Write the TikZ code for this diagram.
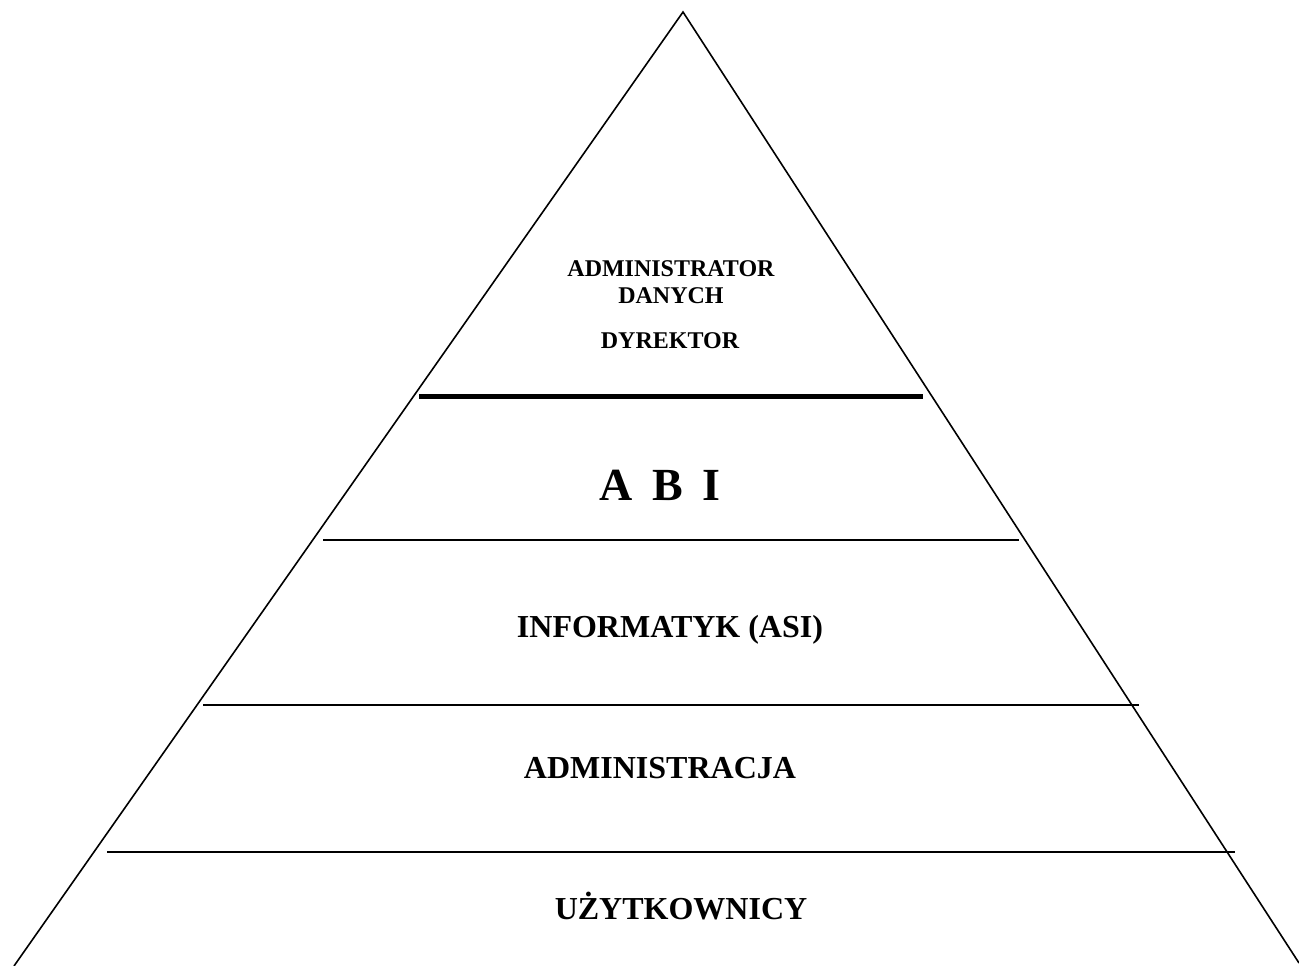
\documentclass[tikz,border=0pt]{standalone}
\usepackage{fontspec}
\setmainfont{Liberation Serif}
\begin{document}
\begin{tikzpicture}[x=1pt,y=-1pt,
  edge/.style={line width=1.6pt},
  tier/.style={line width=1.8pt},
  thicktier/.style={line width=5pt},
  lbl/.style={anchor=base,inner sep=0pt,font=\bfseries}]
\useasboundingbox (0,0) rectangle (1299,966);
% pyramid outline
\coordinate (apex) at (683,12);
\coordinate (bl) at (14,966);
\coordinate (br) at (1299,963);
\draw[edge,line join=miter] (bl) -- (apex) -- (br);
% tier separators
\coordinate (t1l) at (419,396); \coordinate (t1r) at (923,396);
\coordinate (t2l) at (323,540); \coordinate (t2r) at (1019,540);
\coordinate (t3l) at (203,705); \coordinate (t3r) at (1139,705);
\coordinate (t4l) at (107,852); \coordinate (t4r) at (1235,852);
\draw[thicktier] (t1l) -- (t1r);
\draw[tier] (t2l) -- (t2r);
\draw[tier] (t3l) -- (t3r);
\draw[tier] (t4l) -- (t4r);
% labels
\node[lbl,font=\bfseries\fontsize{24}{28}\selectfont] (adm) at (671,276) {ADMINISTRATOR};
\node[lbl,font=\bfseries\fontsize{24}{28}\selectfont] (dan) at (671,303) {DANYCH};
\node[lbl,font=\bfseries\fontsize{24}{28}\selectfont] (dyr) at (670,348) {DYREKTOR};
\node[lbl,font=\bfseries\fontsize{46}{50}\selectfont] (abi) at (660,500) {A\hspace{0.42em}B\hspace{0.42em}I};
\node[lbl,font=\bfseries\fontsize{32}{36}\selectfont] (inf) at (670,637) {INFORMATYK (ASI)};
\node[lbl,font=\bfseries\fontsize{32}{36}\selectfont] (admn) at (660,778) {ADMINISTRACJA};
\node[lbl,font=\bfseries\fontsize{32}{36}\selectfont] (uzy) at (681,919) {UŻYTKOWNICY};
\end{tikzpicture}
\end{document}
